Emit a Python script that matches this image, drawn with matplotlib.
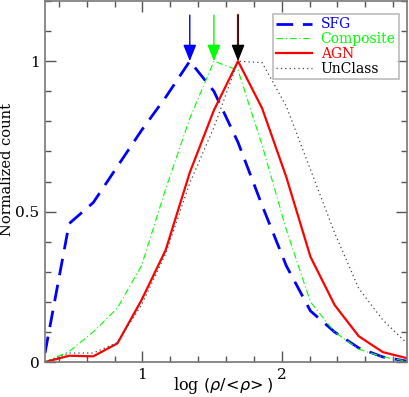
import numpy as np
import matplotlib
matplotlib.use("Agg")
import matplotlib.pyplot as plt
from matplotlib.ticker import MultipleLocator

# bin centres in log (rho/<rho>)^2
x = np.linspace(0.3, 2.9, 16)

sfg = [0.03, 0.46, 0.53, 0.65, 0.77, 0.88, 1.00, 0.90, 0.73, 0.52, 0.32, 0.17, 0.10, 0.047, 0.017, 0.003]
composite = [0.0, 0.035, 0.10, 0.18, 0.32, 0.575, 0.81, 1.00, 0.97, 0.72, 0.44, 0.20, 0.10, 0.043, 0.017, 0.003]
agn = [0.0, 0.021, 0.019, 0.062, 0.206, 0.372, 0.63, 0.837, 1.00, 0.843, 0.615, 0.35, 0.19, 0.086, 0.033, 0.013]
unclass = [0.0, 0.03, 0.03, 0.065, 0.19, 0.36, 0.595, 0.78, 1.00, 0.995, 0.85, 0.64, 0.43, 0.245, 0.14, 0.062]

labels = ["SFG", "Composite", "AGN", "UnClass"]
colors = ["#0000ff", "#00ff00", "#ff0000", "#000000"]
xtick_labels = ["1", "2"]
ytick_labels = ["0", "0.5", "1"]

fig = plt.figure(figsize=(4.09, 3.97), dpi=100)
ax = fig.add_axes([0.110, 0.088, 0.885, 0.9095])

serif = ["DejaVu Serif"]

l1, = ax.plot(x, sfg, color=colors[0], lw=2.0, dashes=(6, 3.5), label=labels[0])
l2, = ax.plot(x, composite, color=colors[1], lw=0.8, dashes=(6, 2.5, 1, 2.5), label=labels[1])
l3, = ax.plot(x, agn, color=colors[2], lw=1.6, label=labels[2])
l4, = ax.plot(x, unclass, color="#444444", lw=0.9, dashes=(1, 2.5), label=labels[3])

# peak arrows
def arrow(xp, col):
    ax.annotate("", xy=(xp, 1.0), xytext=(xp, 1.153),
                arrowprops=dict(arrowstyle="-|>,head_length=1.0,head_width=0.4",
                                color=col, lw=1.0, shrinkA=0, shrinkB=0))

xs = np.array(x)
ia = int(np.argmax(agn))
ax.plot([xs[ia]] * 2, [1.04, 1.153], color="#cc3333", lw=1.6)
arrow(xs[int(np.argmax(sfg))], colors[0])
arrow(xs[int(np.argmax(composite))], colors[1])
arrow(xs[ia], "#000000")
ax.plot([xs[ia]] * 2, [1.06, 1.153], color="#cc5555", lw=1.2)

ax.set_xlim(0.3, 2.9)
ax.set_ylim(0, 1.2)
ax.xaxis.set_minor_locator(MultipleLocator(0.2))
ax.yaxis.set_minor_locator(MultipleLocator(0.1))
ax.set_xticks([1, 2])
ax.set_xticklabels(xtick_labels)
ax.set_yticks([0, 0.5, 1])
ax.set_yticklabels(ytick_labels)
ax.tick_params(which="both", direction="in", top=True, right=True, color="#555555", pad=4)
ax.tick_params(which="major", length=8, width=1)
ax.tick_params(which="minor", length=4, width=1)
for lab in ax.get_xticklabels() + ax.get_yticklabels():
    lab.set_fontfamily(serif)
    lab.set_fontsize(11)
for s in ax.spines.values():
    s.set_color("#777777")
    s.set_linewidth(1.2)

fig.text(7 / 409, 1 - 170 / 397, "Normalized count", family=serif, fontsize=10.5,
         rotation=90, ha="center", va="center")
fig.text(223 / 409, 1 - 386 / 397, r"log $(\rho/\!<\!\rho\!>)$", family=serif, fontsize=11.5,
         ha="center", va="center")

leg = ax.legend(handles=[l1, l2, l3, l4], loc="upper right", prop={"family": serif, "size": 10},
                frameon=True, fancybox=False, edgecolor="#aaaaaa", handlelength=2.6,
                handletextpad=0.6, borderpad=0.25, labelspacing=0.05, borderaxespad=0)
leg.set_bbox_to_anchor((399 / 409, 1 - 14 / 397), transform=fig.transFigure)
leg.get_frame().set_linewidth(1.2)
for t, c in zip(leg.get_texts(), colors):
    t.set_color(c)

fig.savefig("out.png", dpi=100)
